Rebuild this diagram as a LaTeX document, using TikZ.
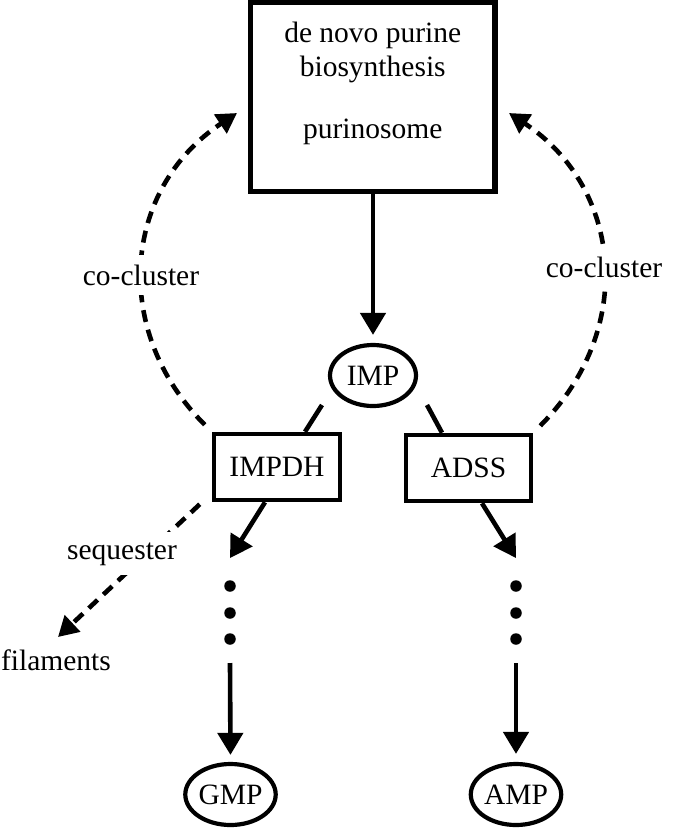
\documentclass[tikz,border=0pt]{standalone}
\usepackage{fontspec}
\setmainfont{Liberation Serif}
\usetikzlibrary{arrows.meta,calc,shapes.geometric}
\begin{document}
\begin{tikzpicture}[x=1pt,y=-1pt,
  lbl/.style={font=\fontsize{29.5}{34}\selectfont, inner sep=0pt},
  gaplbl/.style={lbl, fill=white, inner xsep=3pt, inner ysep=10pt},
  bigbox/.style={draw, line width=5.3pt, minimum width=244.5pt, minimum height=189pt, inner sep=0pt},
  enzbox/.style={draw, line width=4.5pt, minimum width=126pt, minimum height=66pt, inner sep=0pt, font=\fontsize{29.5}{34}\selectfont},
  metab/.style={draw, ellipse, line width=4.2pt, minimum width=86pt, minimum height=61pt, inner sep=0pt, font=\fontsize{29.5}{34}\selectfont},
  link/.style={line width=4.6pt},
  arr/.style={line width=4.6pt, -{Triangle[length=22pt,width=25pt]}},
  darr/.style={line width=4.6pt, dash pattern=on 12pt off 8pt, -{Triangle[length=20pt,width=22pt]}},
  dotnode/.style={circle, fill, inner sep=0pt, minimum size=11.5pt}
]
\useasboundingbox (0,0) rectangle (678,828);

% purinosome box
\node[bigbox] (pur) at (372.75,97) {};
\node[lbl, anchor=base] (t1) at (372.75,42) {de novo purine};
\node[lbl, anchor=base] (t2) at (372.75,76) {biosynthesis};
\node[lbl, anchor=base] (t3) at (372.75,138) {purinosome};

% metabolites and enzymes
\node[metab] (imp) at (373,375.5) {IMP};
\node[enzbox] (impdh) at (277,467) {IMPDH};
\node[enzbox, minimum width=125pt] (adss) at (468.5,468) {ADSS};
\node[metab] (gmp) at (230.5,794.5) {GMP};
\node[metab] (amp) at (516,794.5) {AMP};

% dots
\node[dotnode] (d1) at (230,586) {};
\node[dotnode] (d2) at (230,613) {};
\node[dotnode] (d3) at (230,639) {};
\node[dotnode] (d4) at (516,586) {};
\node[dotnode] (d5) at (516,613) {};
\node[dotnode] (d6) at (516,639) {};

% free ends
\coordinate (g0) at (230,663);
\coordinate (a0) at (516,663);
\coordinate (ltip) at (237,113);
\coordinate (rtip) at (509,113);
\coordinate (filtip) at (58,637);

% solid connectors
\draw[arr, shorten >=8pt] (pur.south -| imp.center) -- (imp.north);
\draw[link] ($(imp.center)+(-51,29.5)$) -- ($(impdh.north)+(28,0)$);
\draw[link] ($(imp.center)+(54,29.5)$) -- ($(adss.north)+(-26.5,0)$);
\draw[arr] ($(impdh.south)+(-12,0)$) -- ($(d1.north)+(0,-22)$);
\draw[arr] ($(adss.south)+(13.5,0)$) -- ($(d4.north)+(0,-22)$);
\draw[arr, shorten >=7pt] (g0) -- (gmp.north);
\draw[arr, shorten >=8pt] (a0) -- (amp.north);

% dashed connectors
\draw[darr] ($(impdh.north west)+(-7,-7)$) .. controls (110,330) and (123.3,188.4) .. (ltip);
\draw[darr] ($(adss.north east)+(7,-7)$) .. controls (636,330) and (622.7,188.4) .. (rtip);
\draw[darr] ($(impdh.south west)+(-12,2)$) -- (filtip);

% labels
\node[gaplbl, anchor=base] (cl) at (141,285) {co-cluster};
\node[gaplbl, anchor=base] (cr) at (604,277) {co-cluster};
\node[gaplbl, anchor=base] (seq) at (122,559) {sequester};
\node[lbl, anchor=base] (fil) at (56,670) {filaments};
\end{tikzpicture}
\end{document}
